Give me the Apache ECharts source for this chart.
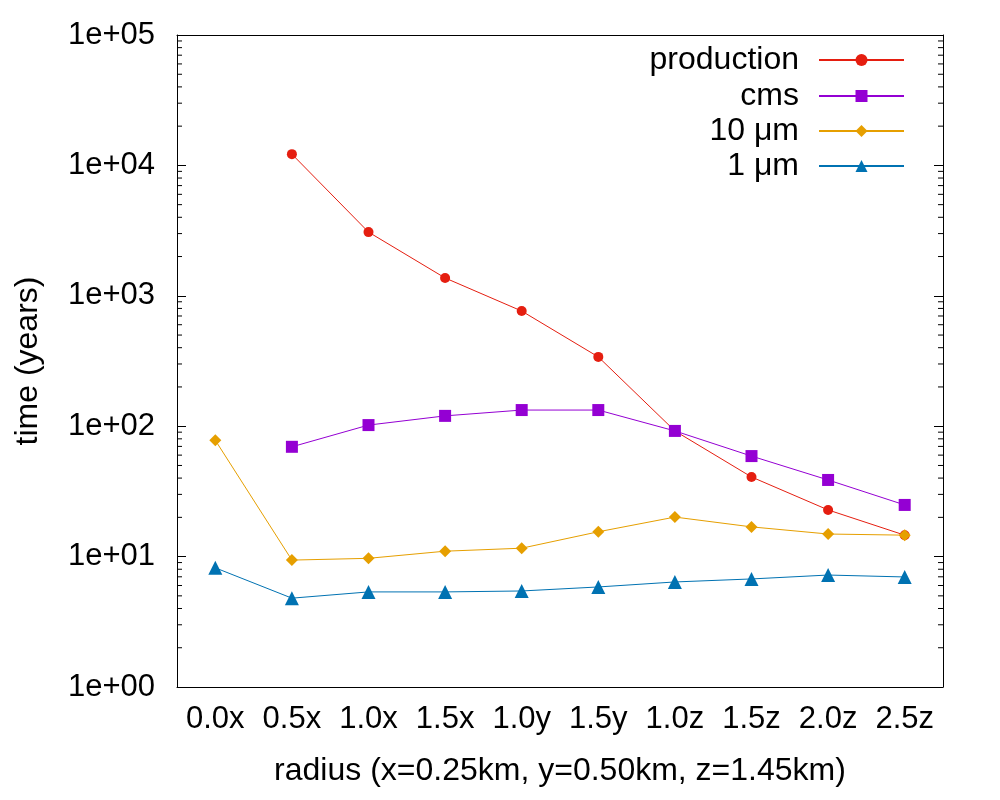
<!DOCTYPE html>
<head>
    <meta charset="utf-8">
    <title>ECharts</title>
</head>
<body style="margin:0">
   <div id="main" style="width:1000px;height:800px"></div>
     <script src="https://cdn.jsdelivr.net/npm/echarts@6/dist/echarts.min.js"></script>
      <script type="text/javascript">

    var categories = ['0.0x', '0.5x', '1.0x', '1.5x', '1.0y', '1.5y', '1.0z', '1.5z', '2.0z', '2.5z'];
    var production = [null, 12200, 3080, 1370, 764, 340, 92, 40.8, 22.8, 14.6];
    var cms = [null, 69.5, 102, 120, 133, 133, 92, 59, 38.7, 24.9];
    var um10 = [78, 9.4, 9.7, 11, 11.6, 15.5, 20.1, 16.9, 14.9, 14.6];
    var um1 = [8.2, 4.8, 5.36, 5.36, 5.45, 5.85, 6.39, 6.74, 7.22, 6.98];
    var seriesNames = ['production', 'cms', '10 μm', '1 μm'];
    var colors = ['#e51e10', '#9400d3', '#e69f00', '#0072b2'];

    // minor log ticks 2..9 for each decade
    var minorTicks = [];
    for (var e = 0; e < 5; e++) {
        for (var k = 2; k < 10; k++) {
            minorTicks.push([0, k * Math.pow(10, e)]);
        }
    }

    var font = 'Liberation Sans, Arial, sans-serif';
    var myChart = echarts.init(document.getElementById('main'));

    function legendFor(i, top) {
        return {
            data: [seriesNames[i]],
            right: 95,
            top: top,
            align: 'right',
            padding: 0,
            itemWidth: 85,
            itemHeight: 15,
            selectedMode: false,
            textStyle: {fontSize: 32, fontFamily: font, color: '#000', padding: [0, 15, 0, 0]}
        };
    }

    option = {
        animation: false,
        backgroundColor: '#fff',
        grid: {left: 177, right: 57, top: 35, bottom: 113},
        legend: [legendFor(0, 44), legendFor(1, 80), legendFor(2, 115), legendFor(3, 150)],
        xAxis: [
            {
                type: 'category',
                data: categories,
                boundaryGap: true,
                name: 'radius (x=0.25km, y=0.50km, z=1.45km)',
                nameLocation: 'middle',
                nameGap: 68,
                nameTextStyle: {fontSize: 32, fontFamily: font, color: '#000'},
                axisLine: {lineStyle: {color: '#000', width: 1}},
                axisTick: {alignWithLabel: true, inside: true, length: 8, lineStyle: {color: '#000'}},
                axisLabel: {fontSize: 31, fontFamily: font, color: '#000', margin: 17},
                splitLine: {show: false}
            },
            {
                type: 'category',
                data: categories,
                position: 'top',
                boundaryGap: true,
                axisLine: {lineStyle: {color: '#000', width: 1}},
                axisTick: {alignWithLabel: true, inside: true, length: 8, lineStyle: {color: '#000'}},
                axisLabel: {show: false},
                splitLine: {show: false}
            }
        ],
        yAxis: [
            {
                type: 'log',
                logBase: 10,
                min: 1,
                max: 100000,
                name: 'time (years)',
                nameLocation: 'middle',
                nameGap: 133,
                nameTextStyle: {fontSize: 32, fontFamily: font, color: '#000'},
                axisLine: {show: true, lineStyle: {color: '#000', width: 1}},
                axisTick: {show: true, inside: true, length: 9, lineStyle: {color: '#000'}},
                axisLabel: {
                    fontSize: 31, fontFamily: font, color: '#000', margin: 22,
                    formatter: function (v) {
                        var p = Math.round(Math.log10(v));
                        return '1e+' + (p < 10 ? '0' : '') + p;
                    }
                },
                splitLine: {show: false}
            },
            {
                type: 'log',
                logBase: 10,
                min: 1,
                max: 100000,
                position: 'right',
                axisLine: {show: true, lineStyle: {color: '#000', width: 1}},
                axisTick: {show: true, inside: true, length: 9, lineStyle: {color: '#000'}},
                axisLabel: {show: false},
                splitLine: {show: false}
            }
        ],
        series: [
            {
                name: seriesNames[0], type: 'line', data: production, color: colors[0],
                symbol: 'circle', symbolSize: 10, lineStyle: {width: 1}, connectNulls: false
            },
            {
                name: seriesNames[1], type: 'line', data: cms, color: colors[1],
                symbol: 'rect', symbolSize: 12, lineStyle: {width: 1}
            },
            {
                name: seriesNames[2], type: 'line', data: um10, color: colors[2],
                symbol: 'diamond', symbolSize: 12, lineStyle: {width: 1}
            },
            {
                name: seriesNames[3], type: 'line', data: um1, color: colors[3],
                symbol: 'triangle', symbolSize: 14, lineStyle: {width: 1}
            },
            {
                type: 'custom',
                silent: true,
                z: 1,
                data: minorTicks,
                renderItem: function (params, api) {
                    var cs = params.coordSys;
                    var y = api.coord([0, api.value(1)])[1];
                    return {
                        type: 'group',
                        children: [
                            {type: 'line', shape: {x1: cs.x, y1: y, x2: cs.x + 5, y2: y}, style: {stroke: '#000', lineWidth: 1}},
                            {type: 'line', shape: {x1: cs.x + cs.width - 5, y1: y, x2: cs.x + cs.width, y2: y}, style: {stroke: '#000', lineWidth: 1}}
                        ]
                    };
                }
            }
        ]
    };
    myChart.setOption(option);

</script>
</body>
